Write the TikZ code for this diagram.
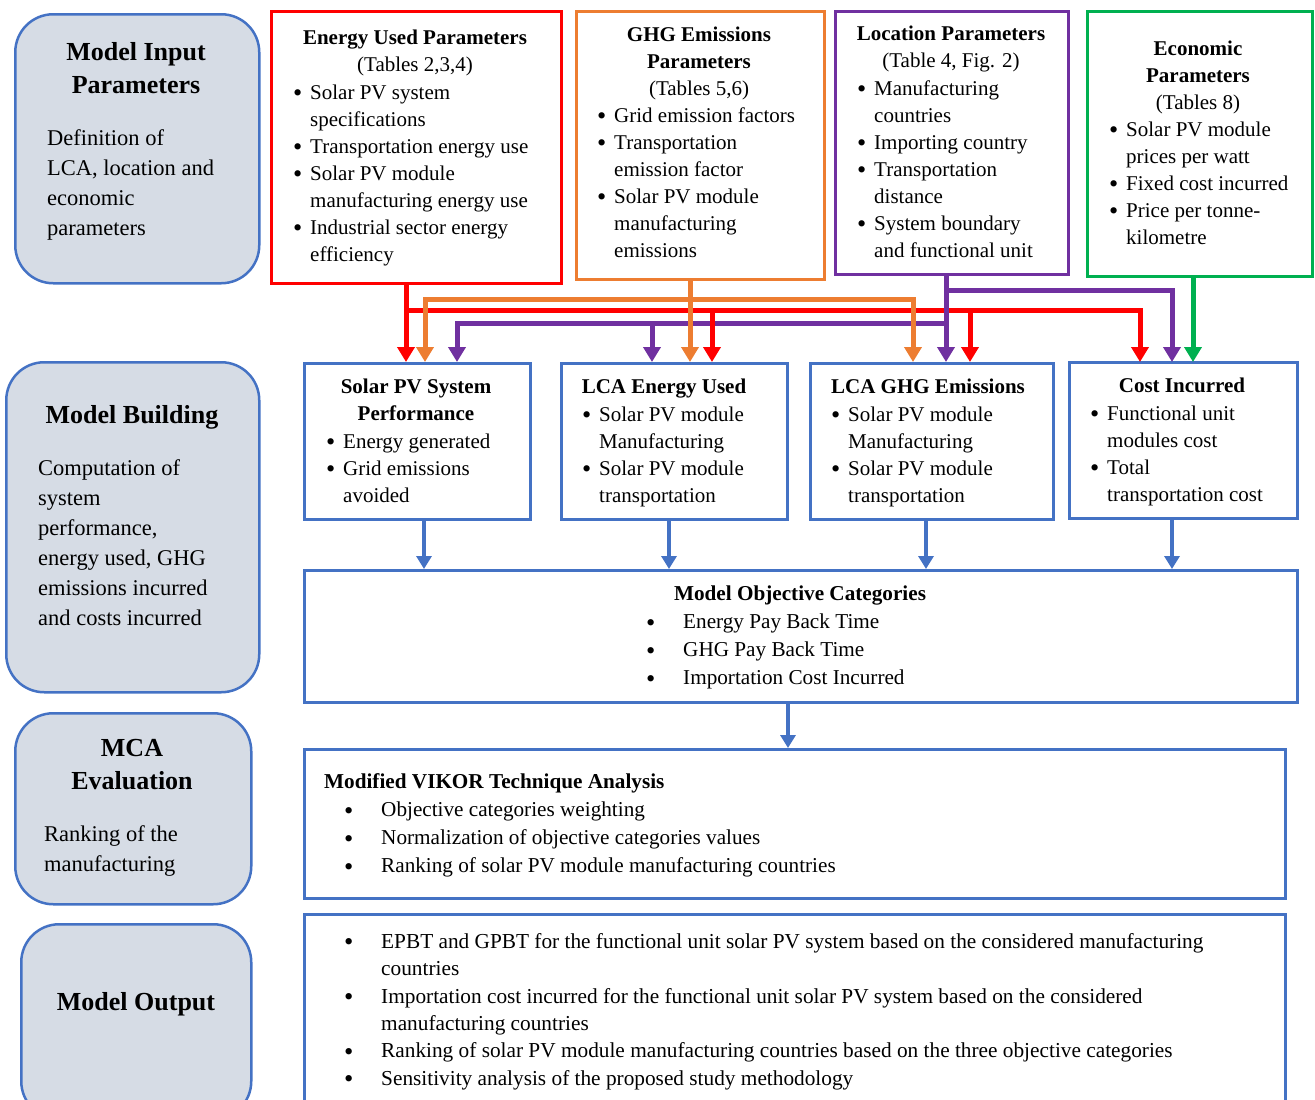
\documentclass[tikz,border=0pt]{standalone}
\usepackage{fontspec}
\setmainfont{Liberation Serif}
\usetikzlibrary{arrows.meta}
\definecolor{bblue}{HTML}{4472C4}
\definecolor{lfill}{HTML}{D6DCE5}
\definecolor{cred}{HTML}{FF0000}
\definecolor{corange}{HTML}{ED7D31}
\definecolor{cpurple}{HTML}{7030A0}
\definecolor{cgreen}{HTML}{00B050}
\newcommand\bigbul{\raisebox{-0.12em}{\scalebox{1.25}{\textbullet}}}
\newcommand\bx[1]{\makebox[17pt][l]{\bigbul}#1}
\newcommand\ind{\hspace*{17pt}}
\newcommand\bw[1]{\makebox[37pt][l]{\bigbul}#1}
\newcommand\indw{\hspace*{37pt}}
\begin{document}
\begin{tikzpicture}[x=1pt,y=-1pt,
  lbox/.style={draw=bblue, fill=lfill, line width=2.5pt, rounded corners=38pt, anchor=north west, inner sep=0},
  tbox/.style={line width=2.5pt, fill=white, anchor=north west, inner sep=0},
  body/.style={inner sep=0, font=\fontsize{21}{27}\selectfont, align=left, anchor=north west},
  bodyw/.style={inner sep=0, font=\fontsize{21.2}{28}\selectfont, align=left, anchor=north west},
  bodyc/.style={inner sep=0, font=\fontsize{21}{27}\selectfont, align=center, anchor=north},
  ltitle/.style={inner sep=0, font=\fontsize{26}{33}\selectfont\bfseries, align=center, anchor=north},
  ldesc/.style={inner sep=0, font=\fontsize{22.5}{30}\selectfont, align=left, anchor=north west},
  conn/.style={line width=5pt, -{Triangle[width=17pt,length=15pt]}},
  conn2/.style={line width=5pt, {Triangle[width=17pt,length=15pt]}-{Triangle[width=17pt,length=15pt]}},
  barrow/.style={draw=bblue, line width=4pt, -{Triangle[width=15pt,length=13pt]}}
]
\clip (0,0) rectangle (1315,1100);

% ---------- left column ----------
\node[lbox, minimum width=244pt, minimum height=269pt] (inp) at (14,13) {};
\node[ltitle] (inpT) at (136,37) {\strut Model Input\\Parameters};
\node[ldesc] (inpD) at (47,124) {\strut Definition of\\LCA, location and\\economic\\parameters};

\node[lbox, minimum width=253pt, minimum height=330pt] (bld) at (5,361) {};
\node[ltitle] (bldT) at (132,400) {\strut Model Building};
\node[ldesc] (bldD) at (38,454) {\strut Computation of\\system\\performance,\\energy used, GHG\\emissions incurred\\and costs incurred};

\node[lbox, minimum width=236pt, minimum height=191pt] (mca) at (14,712) {};
\node[ltitle] (mcaT) at (132,733) {\strut MCA\\Evaluation};
\node[ldesc] (mcaD) at (44,820) {\strut Ranking of the\\manufacturing};

\node[lbox, minimum width=230pt, minimum height=195pt] (outL) at (20,923) {};
\node[ltitle] (outT) at (136,987) {\strut Model Output};

% ---------- input parameter boxes ----------
\node[tbox, draw=cred, minimum width=290pt, minimum height=272pt] (eu) at (270,10) {};
\node[bodyc] (euT) at (415,25) {\strut\textbf{Energy Used Parameters}\\(Tables 2,3,4)};
\node[body] (euI) at (293,80) {\strut\bx{Solar PV system}\\\ind specifications\\\bx{Transportation energy use}\\\bx{Solar PV module}\\\ind manufacturing energy use\\\bx{Industrial sector energy}\\\ind efficiency};

\node[tbox, draw=corange, minimum width=248pt, minimum height=268pt] (ghg) at (575,10) {};
\node[bodyc] (ghgT) at (699,22) {\strut\textbf{GHG Emissions}\\\textbf{Parameters}\\(Tables 5,6)};
\node[body] (ghgI) at (597,103) {\strut\bx{Grid emission factors}\\\bx{Transportation}\\\ind emission factor\\\bx{Solar PV module}\\\ind manufacturing\\\ind emissions};

\node[tbox, draw=cpurple, minimum width=233pt, minimum height=263pt] (loc) at (834,10) {};
\node[bodyc] (locT) at (951,21) {\strut\textbf{Location Parameters}\\(Table 4, Fig. 2)};
\node[body] (locI) at (857,76) {\strut\bx{Manufacturing}\\\ind countries\\\bx{Importing country}\\\bx{Transportation}\\\ind distance\\\bx{System boundary}\\\ind and functional unit};

\node[tbox, draw=cgreen, minimum width=225pt, minimum height=265pt] (eco) at (1086,10) {};
\node[bodyc] (ecoT) at (1198,36) {\strut\textbf{Economic}\\\textbf{Parameters}\\(Tables 8)};
\node[body] (ecoI) at (1109,117) {\strut\bx{Solar PV module}\\\ind prices per watt\\\bx{Fixed cost incurred}\\\bx{Price per tonne-}\\\ind kilometre};

% ---------- model building boxes ----------
\node[tbox, draw=bblue, minimum width=226pt, minimum height=156pt] (spv) at (303,362) {};
\node[bodyc] (spvT) at (416,374) {\strut\textbf{Solar PV System}\\\textbf{Performance}};
\node[body] (spvI) at (326,429) {\strut\bx{Energy generated}\\\bx{Grid emissions}\\\ind avoided};

\node[tbox, draw=bblue, minimum width=226pt, minimum height=156pt] (leu) at (560,362) {};
\node[bodyc] (leuT) at (664,374) {\strut\textbf{LCA Energy Used}};
\node[body] (leuI) at (582,402) {\strut\bx{Solar PV module}\\\ind Manufacturing\\\bx{Solar PV module}\\\ind transportation};

\node[tbox, draw=bblue, minimum width=243pt, minimum height=156pt] (lghg) at (809,362) {};
\node[bodyc] (lghgT) at (928,374) {\strut\textbf{LCA GHG Emissions}};
\node[body] (lghgI) at (831,402) {\strut\bx{Solar PV module}\\\ind Manufacturing\\\bx{Solar PV module}\\\ind transportation};

\node[tbox, draw=bblue, minimum width=228pt, minimum height=156pt] (cost) at (1068,361) {};
\node[bodyc] (costT) at (1182,373) {\strut\textbf{Cost Incurred}};
\node[body] (costI) at (1090,401) {\strut\bx{Functional unit}\\\ind modules cost\\\bx{Total}\\\ind transportation cost};

% ---------- objectives, VIKOR, output ----------
\node[tbox, draw=bblue, minimum width=993pt, minimum height=132pt] (obj) at (303,569) {};
\node[bodyc, font=\fontsize{21.2}{27}\selectfont] (objT) at (800,581) {\strut\textbf{Model Objective Categories}};
\node[bodyw] (objI) at (646,609) {\strut\bw{Energy Pay Back Time}\\\bw{GHG Pay Back Time}\\\bw{Importation Cost Incurred}};

\node[tbox, draw=bblue, minimum width=981pt, minimum height=149pt] (vik) at (303,748) {};
\node[body, font=\fontsize{21.2}{27}\selectfont] (vikT) at (324,769) {\strut\textbf{Modified VIKOR Technique Analysis}};
\node[bodyw] (vikI) at (344,797) {\strut\bw{Objective categories weighting}\\\bw{Normalization of objective categories values}\\\bw{Ranking of solar PV module manufacturing countries}};

\node[tbox, draw=bblue, minimum width=981pt, minimum height=220pt] (out) at (303,913) {};
\node[body, font=\fontsize{21.3}{27.4}\selectfont] (outI) at (344,929) {\strut\bw{EPBT and GPBT for the functional unit solar PV system based on the considered manufacturing}\\\indw countries\\\bw{Importation cost incurred for the functional unit solar PV system based on the considered}\\\indw manufacturing countries\\\bw{Ranking of solar PV module manufacturing countries based on the three objective categories}\\\bw{Sensitivity analysis of the proposed study methodology}};

% ---------- coordinates for connectors ----------
\coordinate (rA) at (406,362);
\coordinate (rB) at (712,362);
\coordinate (rC) at (970,362);
\coordinate (rD) at (1140,362);
\coordinate (rbus) at (406,310);
\coordinate (oA) at (425,362);
\coordinate (oB) at (690,362);
\coordinate (oC) at (913,362);
\coordinate (obus) at (425,299);
\coordinate (pA) at (457,362);
\coordinate (pB) at (652,362);
\coordinate (pC) at (946,362);
\coordinate (pD) at (1172,362);
\coordinate (pb1) at (946,290);
\coordinate (pb2) at (946,323);
\coordinate (gA) at (1193,362);

% purple
\draw[conn, cpurple] (pb2) -| (pA);
\draw[conn, cpurple] (pb2 -| pB) -- (pB);
% red
\draw[conn, cred] (eu.south -| rA) -- (rA);
\draw[conn, cred] (rbus) -| (rD);
\draw[conn, cred] (rbus -| rB) -- (rB);
\draw[conn, cred] (rbus -| rC) -- (rC);
% orange
\draw[conn2, corange] (oA) |- (obus -| oC) -- (oC);
\draw[conn, corange] (ghg.south -| oB) -- (oB);
% purple main
\draw[conn, cpurple] (loc.south -| pC) -- (pC);
\draw[conn, cpurple] (pb1) -| (pD);
% green
\draw[conn, cgreen] (eco.south -| gA) -- (gA);

% blue arrows
\coordinate (b1) at (424,569);
\coordinate (b2) at (669,569);
\coordinate (b3) at (926,569);
\coordinate (b4) at (1172,569);
\coordinate (b5) at (788,748);
\draw[barrow] (spv.south -| b1) -- (b1);
\draw[barrow] (leu.south -| b2) -- (b2);
\draw[barrow] (lghg.south -| b3) -- (b3);
\draw[barrow] (cost.south -| b4) -- (b4);
\draw[barrow] (obj.south -| b5) -- (b5);
\end{tikzpicture}
\end{document}
